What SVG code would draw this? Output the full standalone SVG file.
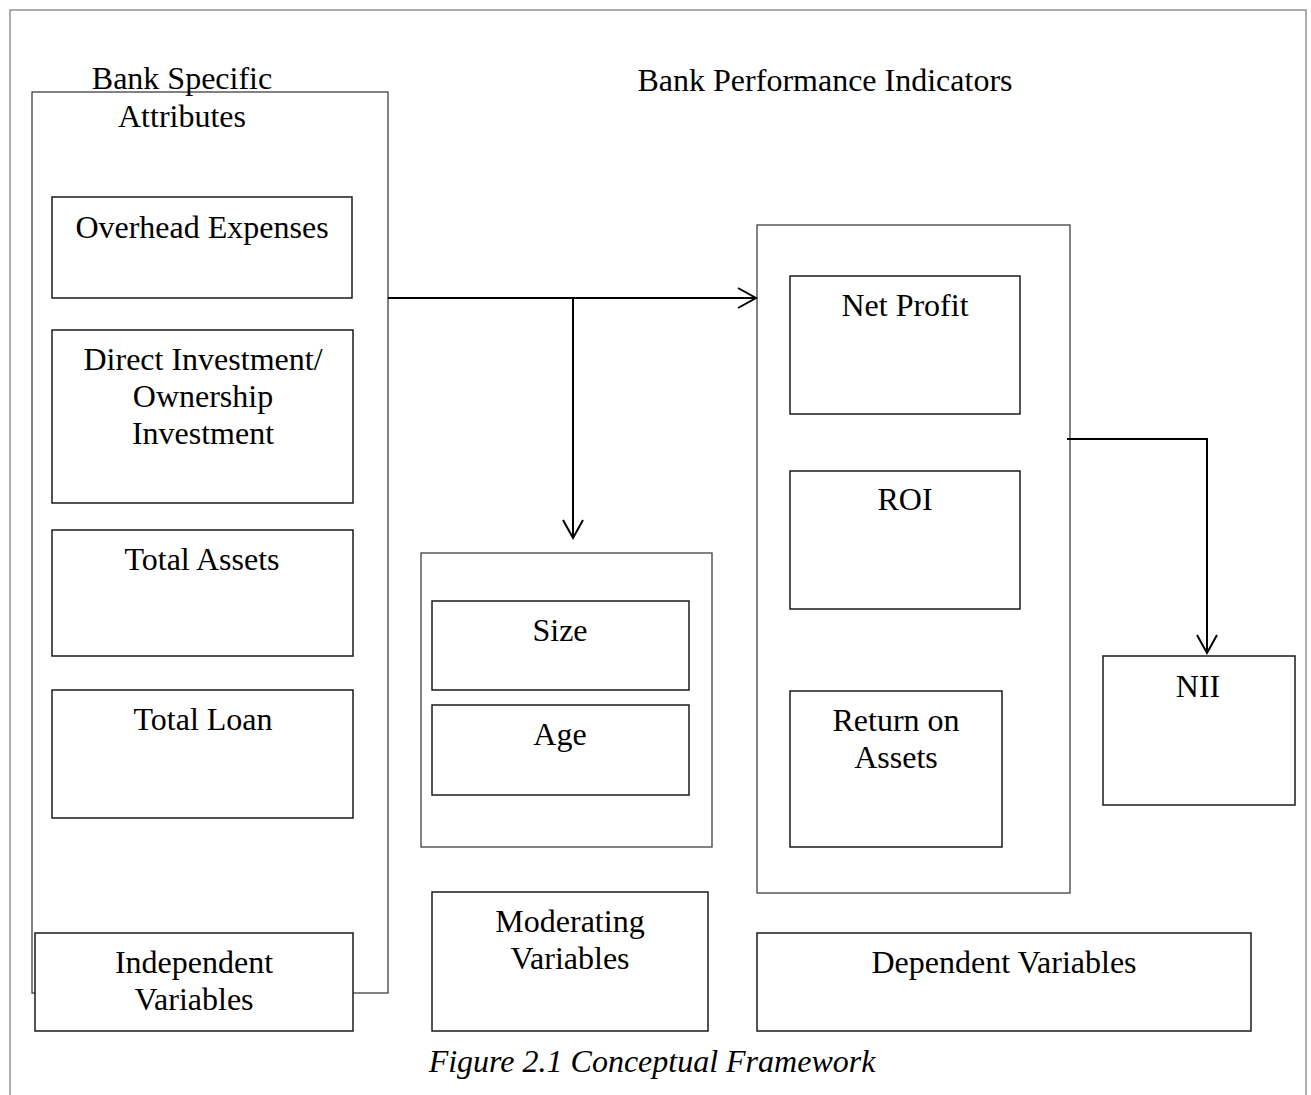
<svg xmlns="http://www.w3.org/2000/svg" width="1311" height="1095" viewBox="0 0 1311 1095">
<style>
.frame{fill:none;stroke:#808080;stroke-width:1.3}
.cont{fill:#fff;stroke:#404040;stroke-width:1.3}
.box{fill:#fff;stroke:#1a1a1a;stroke-width:1.5}
.t{font-family:"Liberation Serif","Times New Roman",serif;font-size:32px;fill:#000;text-anchor:middle}
.cap{font-style:italic}
.conn{fill:none;stroke:#000;stroke-width:2}
</style>
<defs>
<marker id="arr" markerUnits="userSpaceOnUse" markerWidth="22" markerHeight="24" refX="19" refY="11" orient="auto">
<path d="M1,1 L19,11 L1,21" fill="none" stroke="#000" stroke-width="2"/>
</marker>
</defs>
<rect width="1311" height="1095" fill="#fff"/>
<rect class="frame" x="10" y="10" width="1296" height="1100"/>

<g id="independent-container">
<rect class="cont" x="32" y="92" width="356" height="901"/>
<text class="t" x="182" y="89">Bank Specific</text>
<text class="t" x="182" y="127">Attributes</text>
</g>
<g id="overhead-expenses">
<rect class="box" x="52" y="197" width="300" height="101"/>
<text class="t" x="202" y="238">Overhead Expenses</text>
</g>
<g id="direct-investment">
<rect class="box" x="52" y="330" width="301" height="173"/>
<text class="t" x="203" y="370">Direct Investment/</text>
<text class="t" x="203" y="407">Ownership</text>
<text class="t" x="203" y="444">Investment</text>
</g>
<g id="total-assets">
<rect class="box" x="52" y="530" width="301" height="126"/>
<text class="t" x="202" y="570">Total Assets</text>
</g>
<g id="total-loan">
<rect class="box" x="52" y="690" width="301" height="128"/>
<text class="t" x="203" y="730">Total Loan</text>
</g>
<g id="independent-variables">
<rect class="box" x="35" y="933" width="318" height="98"/>
<text class="t" x="194" y="973">Independent</text>
<text class="t" x="194" y="1010">Variables</text>
</g>

<g id="moderating-container">
<rect class="cont" x="421" y="553" width="291" height="294"/>
</g>
<g id="size">
<rect class="box" x="432" y="601" width="257" height="89"/>
<text class="t" x="560" y="641">Size</text>
</g>
<g id="age">
<rect class="box" x="432" y="705" width="257" height="90"/>
<text class="t" x="560" y="745">Age</text>
</g>
<g id="moderating-variables">
<rect class="box" x="432" y="892" width="276" height="139"/>
<text class="t" x="570" y="932">Moderating</text>
<text class="t" x="570" y="969">Variables</text>
</g>

<g id="dependent-container">
<rect class="cont" x="757" y="225" width="313" height="668"/>
<text class="t" x="825" y="91">Bank Performance Indicators</text>
</g>
<g id="net-profit">
<rect class="box" x="790" y="276" width="230" height="138"/>
<text class="t" x="905" y="316">Net Profit</text>
</g>
<g id="roi">
<rect class="box" x="790" y="471" width="230" height="138"/>
<text class="t" x="905" y="510">ROI</text>
</g>
<g id="return-on-assets">
<rect class="box" x="790" y="691" width="212" height="156"/>
<text class="t" x="896" y="731">Return on</text>
<text class="t" x="896" y="768">Assets</text>
</g>
<g id="nii">
<rect class="box" x="1103" y="656" width="192" height="149"/>
<text class="t" x="1198" y="697">NII</text>
</g>
<g id="dependent-variables">
<rect class="box" x="757" y="933" width="494" height="98"/>
<text class="t" x="1004" y="973">Dependent Variables</text>
</g>

<g id="connectors">
<line class="conn" x1="388" y1="298" x2="573" y2="298" stroke-width="1.6"/>
<line class="conn" x1="573" y1="298" x2="756" y2="298" marker-end="url(#arr)"/>
<line class="conn" x1="573" y1="298" x2="573" y2="538" marker-end="url(#arr)"/>
<polyline class="conn" points="1067,439 1207,439 1207,653" marker-end="url(#arr)"/>
</g>

<g id="caption">
<text class="t cap" x="652" y="1072">Figure 2.1 Conceptual Framework</text>
</g>
</svg>
